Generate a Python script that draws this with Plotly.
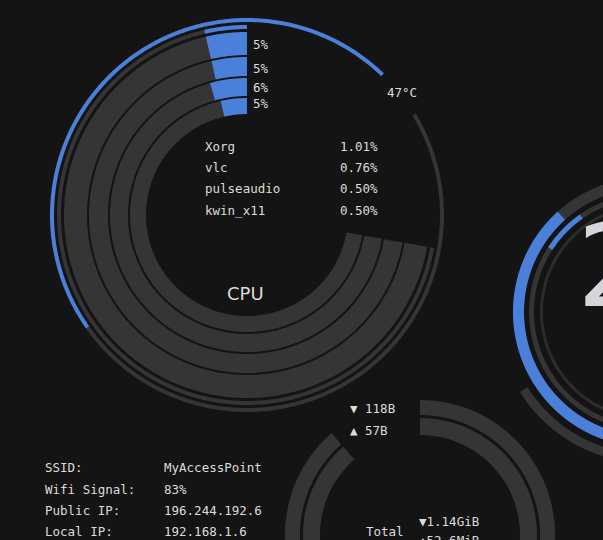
import numpy as np
import plotly.graph_objects as go

# ---------------- data ----------------
cpu_core_usage = [5, 5, 6, 5]          # % per core (outer -> inner ring)
cpu_total_usage = 5                    # % total (thin ring)
cpu_temp_c = 47                        # degrees C
process_names = ["Xorg", "vlc", "pulseaudio", "kwin_x11"]
process_cpu = [1.01, 0.76, 0.50, 0.50]

net_labels = ["SSID:", "Wifi Signal:", "Public IP:", "Local IP:"]
net_values = ["MyAccessPoint", "83%", "196.244.192.6", "192.168.1.6"]
net_down_rate = "118B"
net_up_rate = "57B"
net_total_down = "1.14GiB"
net_total_up = "52.6MiB"

clock_digit = "2"
clock_outer_fill_deg = [132, 255]      # blue arc on the partially visible right gauge
clock_inner_fill_deg = [125, 147]

# ---------------- style ----------------
BG = "#141414"
TRACK = "#353535"
BLUE = "#4a80d9"
TXT = "#dcdcdc"
MONO = "DejaVu Sans Mono"
FS = 12.5

W, H = 603, 540
fig = go.Figure()


def sector(cx, cy, r0, r1, a0, a1):
    n = max(8, int(abs(a1 - a0) * 2) + 2)
    t = np.radians(np.linspace(a0, a1, n))
    xo = cx + r1 * np.cos(t)
    yo = cy - r1 * np.sin(t)
    xi = cx + r0 * np.cos(t[::-1])
    yi = cy - r0 * np.sin(t[::-1])
    x = np.concatenate([xo, xi, xo[:1]])
    y = np.concatenate([yo, yi, yo[:1]])
    return x, y


def add_arc(cx, cy, r0, r1, a0, a1, color):
    x, y = sector(cx, cy, r0, r1, a0, a1)
    fig.add_trace(go.Scatter(x=x, y=y, mode="none", fill="toself",
                             fillcolor=color, hoverinfo="skip"))


# ---------------- CPU gauge ----------------
CX, CY = 247, 215
CPU_START, CPU_SPAN = 90, 260
core_radii = [(160, 183), (139, 158), (119, 137), (101, 117)]
for (r0, r1), v in zip(core_radii, cpu_core_usage):
    add_arc(CX, CY, r0, r1, CPU_START, CPU_START + CPU_SPAN, TRACK)
    add_arc(CX, CY, r0, r1, CPU_START, CPU_START + CPU_SPAN * v / 100, BLUE)

# thin total ring
add_arc(CX, CY, 186, 190, CPU_START, CPU_START + CPU_SPAN, TRACK)
add_arc(CX, CY, 186, 190, CPU_START, CPU_START + CPU_SPAN * cpu_total_usage / 100, BLUE)

# temperature ring (100 C = full turn starting at upper right, gap for label)
T_START, T_GAP = 46, 15
t_end = T_START + 360 * cpu_temp_c / 100
add_arc(CX, CY, 193, 197, t_end, T_START + 360 - T_GAP, TRACK)
add_arc(CX, CY, 193, 197, T_START, t_end, BLUE)

# ---------------- network gauge (bottom) ----------------
NX, NY = 420, 535
for r0, r1 in [(120, 135), (100, 117)]:
    add_arc(NX, NY, r0, r1, -12, 90, TRACK)
    add_arc(NX, NY, r0, r1, 131, 195, TRACK)

# ---------------- clock gauge (right, partially visible) ----------------
KX, KY = 648, 312
add_arc(KX, KY, 124, 135, -30, 360 - 105, TRACK)
add_arc(KX, KY, 124, 135, clock_outer_fill_deg[0], clock_outer_fill_deg[1], BLUE)
add_arc(KX, KY, 114, 119, 30, 300, TRACK)
add_arc(KX, KY, 114, 119, clock_inner_fill_deg[0], clock_inner_fill_deg[1], BLUE)
add_arc(KX, KY, 105, 108, 0, 360, "#2c2c2c")
add_arc(KX, KY, 142, 151, 212, 280, TRACK)

# ---------------- text ----------------
ann = []


def text(x, y, s, anchor="left", size=FS, family=MONO, color=TXT, yanchor="middle"):
    ann.append(dict(x=x, y=y, xref="x", yref="y", text=s, showarrow=False,
                    xanchor=anchor, yanchor=yanchor, borderpad=0, borderwidth=0,
                    font=dict(family=family, size=size, color=color)))


for y, v in zip([44, 68, 87, 103], cpu_core_usage):
    text(253, y, f"{v}%")
text(387, 92, f"{cpu_temp_c}°C")
for y, n, v in zip([146, 167, 188, 210], process_names, process_cpu):
    text(205, y, n)
    text(378, y, f"{v:.2f}%", anchor="right")
text(245, 293.5, "CPU", anchor="center", size=18, family="DejaVu Sans")

for y, l, v in zip([467.5, 489, 510, 531.5], net_labels, net_values):
    text(45, y, l)
    text(164, y, v)
text(350, 408, "▼ " + net_down_rate)
text(350, 430.5, "▲ " + net_up_rate)
text(366, 531, "Total")
text(419, 521, "▼" + net_total_down)
text(419, 533, "▲" + net_total_up, yanchor="top")

text(577, 266, clock_digit, size=114, family="DejaVu Sans", color="#d6d3da")

fig.update_layout(
    width=W, height=H, margin=dict(l=0, r=0, t=0, b=0),
    paper_bgcolor=BG, plot_bgcolor=BG, showlegend=False,
    xaxis=dict(range=[0, W], visible=False, fixedrange=True),
    yaxis=dict(range=[H, 0], visible=False, fixedrange=True),
    annotations=ann,
)
fig.write_html(
    "out.html",
    config={"displayModeBar": False},
    post_script="document.body.style.margin='0';document.body.style.overflow='hidden';"
                "document.body.style.background='" + BG + "';",
)
